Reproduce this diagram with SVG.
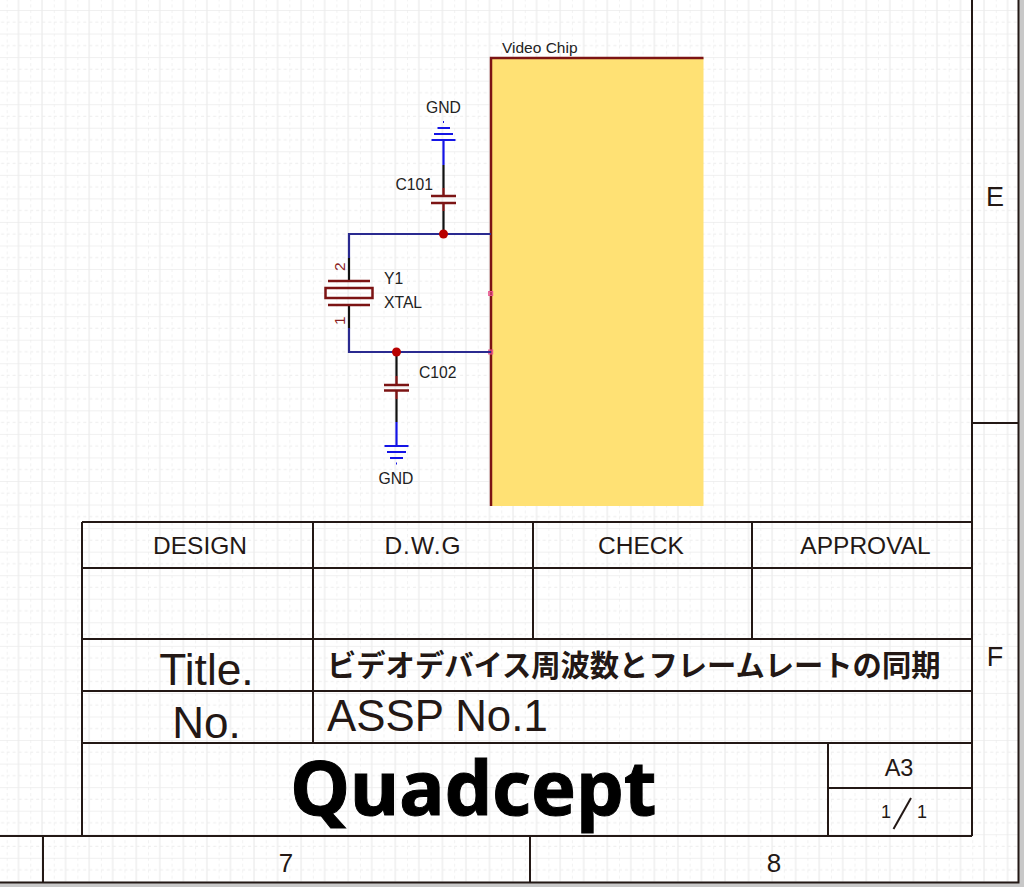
<svg xmlns="http://www.w3.org/2000/svg" width="1024" height="887" viewBox="0 0 1024 887">
<style>
.t{font-family:"Liberation Sans","Noto Sans CJK JP",sans-serif;fill:#231815}
.s{font-size:15.700px;fill:#222}
.f{stroke:#231815;stroke-width:2;fill:none}
.w{stroke:#2a2a90;stroke-width:2.200;fill:none}
.k{stroke:#111;stroke-width:2.200;fill:none}
.r{stroke:#7c1414;stroke-width:2.500;fill:none}
.b{stroke:#1414e6;stroke-width:2.200;fill:none}
.p{fill:#e8508c;stroke:#e8508c;stroke-width:1;fill-opacity:.6}
</style>
<defs>
<pattern id="grid" width="23.55" height="23.55" patternUnits="userSpaceOnUse" x="6.7" y="10">
<path d="M0.2 0V23.55M0 12.1H23.55" stroke="#f0f0f0" stroke-width="1.200" stroke-dasharray="3 3" fill="none"/>
<path d="M11.8 0V23.55M0 0H23.55" stroke="#ececec" stroke-width="1.300" fill="none"/>
</pattern>
</defs>
<rect width="1024" height="887" fill="#fff"/>
<rect width="1024" height="887" fill="url(#grid)"/>
<path d="M1019 0V882.500H0V887H1024V0Z" fill="#c8c8c8"/>
<g id="frame">
<path class="f" d="M1018.500 0V882.500H0M972 0V836M972 423H1018.500M0 836H972M43 836V882.500M530 836V882.500"/>
<text class="t" x="995" y="205.500" font-size="27" text-anchor="middle">E</text>
<text class="t" x="995" y="666" font-size="27" text-anchor="middle">F</text>
<text class="t" x="286" y="872" font-size="26" text-anchor="middle">7</text>
<text class="t" x="774" y="872" font-size="26" text-anchor="middle">8</text>
</g>
<g id="title-block">
<path class="f" d="M82 522H972M82 568H972M82 639H972M82 691H972M82 743H972M82 522V836M313 522V743M533 522V639M752 522V639M828 743V836M828 788H972"/>
<path d="M893.500 829L911 798" stroke="#231815" stroke-width="2" fill="none"/>
<text class="t" x="200" y="554" font-size="24.500" text-anchor="middle">DESIGN</text>
<text class="t" x="423" y="554" font-size="24.500" letter-spacing="1" text-anchor="middle">D.W.G</text>
<text class="t" x="641" y="554" font-size="24.500" text-anchor="middle">CHECK</text>
<text class="t" x="865.500" y="554" font-size="24.500" text-anchor="middle">APPROVAL</text>
<text class="t" x="206.500" y="685" font-size="44.300" text-anchor="middle">Title.</text>
<text class="t" x="206.500" y="737.500" font-size="44" text-anchor="middle">No.</text>
<text class="t" x="327" y="676" font-size="29.300" font-weight="700">ビデオデバイス周波数とフレームレートの同期</text>
<text class="t" x="327" y="730.500" font-size="43.800">ASSP No.1</text>
<text x="473.500" y="815" font-size="75.500" font-weight="700" text-anchor="middle" stroke="#000" stroke-width="1" style="font-family:'Noto Sans',sans-serif" fill="#000">Quadcept</text>
<text class="t" x="899" y="776" font-size="23.500" text-anchor="middle">A3</text>
<text class="t" x="886" y="818" font-size="18" text-anchor="middle">1</text>
<text class="t" x="922" y="818" font-size="18" text-anchor="middle">1</text>
</g>
<g id="video-chip">
<rect x="491" y="58" width="212.500" height="448" fill="#ffe174"/>
<path class="r" d="M491 506V58H703.500"/>
<text class="t s" x="502" y="53" style="font-size:15.500px">Video Chip</text>
<rect class="p" x="488.700" y="291.500" width="4" height="4"/>
<rect class="p" x="488.700" y="350" width="4" height="4"/>
</g>
<g id="connectors">
<path class="w" d="M491 234H349V258"/>
<path class="w" d="M349 328V352H491"/>
<path class="b" d="M443.500 165V140"/>
<path class="b" d="M396.500 422V446"/>
<path class="k" d="M443.500 165V188M443.500 211V234M396.500 352V376M396.500 399V422M349 258V281M349 305V328"/>
<circle cx="443.500" cy="234" r="4.500" fill="#b80000"/>
<circle cx="396.500" cy="352" r="4.500" fill="#b80000"/>
</g>
<g id="C101">
<path class="r" d="M443.500 188V196M431 196H456M431 203H456M443.500 203V211"/>
<text class="t s" x="395.500" y="189.500">C101</text>
</g>
<g id="C102">
<path class="r" d="M396.500 376V385M384 385H409M384 390.500H409M396.500 390.500V399"/>
<text class="t s" x="419" y="377.500">C102</text>
</g>
<g id="Y1">
<path class="r" d="M328 281H370M328 305H370"/>
<rect class="r" x="325.500" y="288" width="47" height="10"/>
<text x="0" y="0" font-size="15.500" fill="#8a2222" transform="translate(344.500 271) rotate(-90)" style="font-family:'Liberation Sans',sans-serif">2</text>
<text x="0" y="0" font-size="15.500" fill="#8a2222" transform="translate(344.500 325) rotate(-90)" style="font-family:'Liberation Sans',sans-serif">1</text>
<text class="t s" x="384" y="283.500">Y1</text>
<text class="t s" x="384" y="307.500">XTAL</text>
</g>
<g id="GND1">
<path class="b" d="M431.500 140H455.500M434 134H453M437.500 128H450M443 122H444"/>
<text class="t s" x="443.500" y="112.500" text-anchor="middle">GND</text>
</g>
<g id="GND2">
<path class="b" d="M384.500 446H408.500M387 452H406M390 458H403M396 463.500H397"/>
<text class="t s" x="396" y="483.500" text-anchor="middle">GND</text>
</g>
</svg>
